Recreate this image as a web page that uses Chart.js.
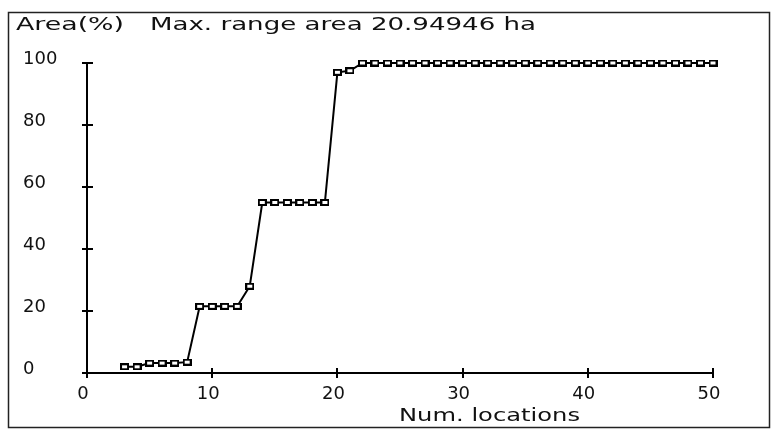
<!DOCTYPE html>
<html>
<head>
<meta charset="utf-8">
<script src="https://cdn.jsdelivr.net/npm/chart.js@4/dist/chart.umd.min.js"></script>
<style>
html,body{margin:0;padding:0;background:#fff;}
#wrap{width:776px;height:430px;position:relative;}
</style>
</head>
<body>
<div id="wrap"><canvas id="c" width="776" height="430"></canvas></div>
<script>
// ---- data ----
const numLocations = [3,4,5,6,7,8,9,10,11,12,13,14,15,16,17,18,19,20,21,22,23,24,25,26,27,28,29,30,31,32,33,34,35,36,37,38,39,40,41,42,43,44,45,46,47,48,49,50];
const areaPercent = [2,2,3.2,3.2,3.2,3.5,21.5,21.5,21.5,21.5,28,55,55,55,55,55,55,97,97.5,
  100,100,100,100,100,100,100,100,100,100,100,100,100,100,100,100,100,100,100,100,100,100,100,100,100,100,100,100,100];
const xTicks = [0,10,20,30,40,50];
const yTicks = [0,20,40,60,80,100];
const headerLeft = "Area(%)";
const headerRight = "Max. range area 20.94946 ha";
const xTitle = "Num. locations";

// ---- marker ----
const marker = document.createElement('canvas');
marker.width = 9; marker.height = 7;
(function(){
  const g = marker.getContext('2d');
  g.fillStyle = '#000';
  g.fillRect(0,0,9,7);
  g.fillStyle = '#fff';
  g.fillRect(2,2,5,3);
})();

const FONT = '"DejaVu Sans", Verdana, sans-serif';

function stretchText(ctx, text, x, y, targetW) {
  ctx.save();
  ctx.font = '17px ' + FONT;
  ctx.textBaseline = 'middle';
  ctx.textAlign = 'left';
  ctx.fillStyle = '#111';
  const w = ctx.measureText(text).width;
  const sx = targetW / w;
  ctx.translate(x, y);
  ctx.scale(sx, 1);
  ctx.fillText(text, 0, 0);
  ctx.restore();
}

const decor = {
  id: 'decor',
  afterDraw(chart) {
    const ctx = chart.ctx;
    ctx.save();
    ctx.strokeStyle = '#222';
    ctx.lineWidth = 1.5;
    ctx.strokeRect(8.5, 12.5, 761, 415);
    // inner halves of tick marks (ticks cross the axes)
    ctx.strokeStyle = '#000';
    ctx.lineWidth = 2;
    const xs = chart.scales.x, ys = chart.scales.y;
    ctx.beginPath();
    xs.ticks.forEach((t, i) => {
      const px = Math.round(xs.getPixelForTick(i));
      ctx.moveTo(px, ys.bottom); ctx.lineTo(px, ys.bottom - 5);
    });
    ys.ticks.forEach((t, i) => {
      const py = Math.round(ys.getPixelForTick(i));
      ctx.moveTo(xs.left, py); ctx.lineTo(xs.left + 6, py);
    });
    ctx.stroke();
    ctx.restore();
    stretchText(ctx, headerLeft, 16, 26, 108);
    stretchText(ctx, headerRight, 150, 26, 386);
    stretchText(ctx, xTitle, 399, 417, 181);
  }
};

new Chart(document.getElementById('c'), {
  type: 'line',
  data: {
    datasets: [{
      data: numLocations.map((x, i) => ({x: x, y: areaPercent[i]})),
      borderColor: '#000',
      borderWidth: 2,
      pointStyle: marker,
      pointRadius: 4,
      pointHoverRadius: 4,
      tension: 0,
      clip: false
    }]
  },
  options: {
    responsive: false,
    animation: false,
    events: [],
    layout: { padding: { left: 23, top: 63, right: 63, bottom: 0 } },
    plugins: { legend: { display: false }, tooltip: { enabled: false }, title: { display: false } },
    scales: {
      x: {
        type: 'linear', min: 0, max: 50,
        afterBuildTicks: s => { s.ticks = xTicks.map(v => ({value: v})); },
        afterFit: s => { s.height = 57; },
        grid: { display: true, drawOnChartArea: false, drawTicks: true, tickLength: 5, color: '#000', lineWidth: 2 },
        border: { display: true, color: '#000', width: 2 },
        ticks: { color: '#111', font: { family: FONT, size: 18 }, padding: 6, maxRotation: 0, labelOffset: -4 }
      },
      y: {
        type: 'linear', min: 0, max: 100,
        afterBuildTicks: s => { s.ticks = yTicks.map(v => ({value: v})); },
        afterFit: s => { s.width = 64; },
        grid: { display: true, drawOnChartArea: false, drawTicks: true, tickLength: 5, color: '#000', lineWidth: 2 },
        border: { display: true, color: '#000', width: 2 },
        ticks: { color: '#111', font: { family: FONT, size: 18 }, crossAlign: 'far', labelOffset: -4 }
      }
    }
  },
  plugins: [decor]
});
</script>
</body>
</html>
